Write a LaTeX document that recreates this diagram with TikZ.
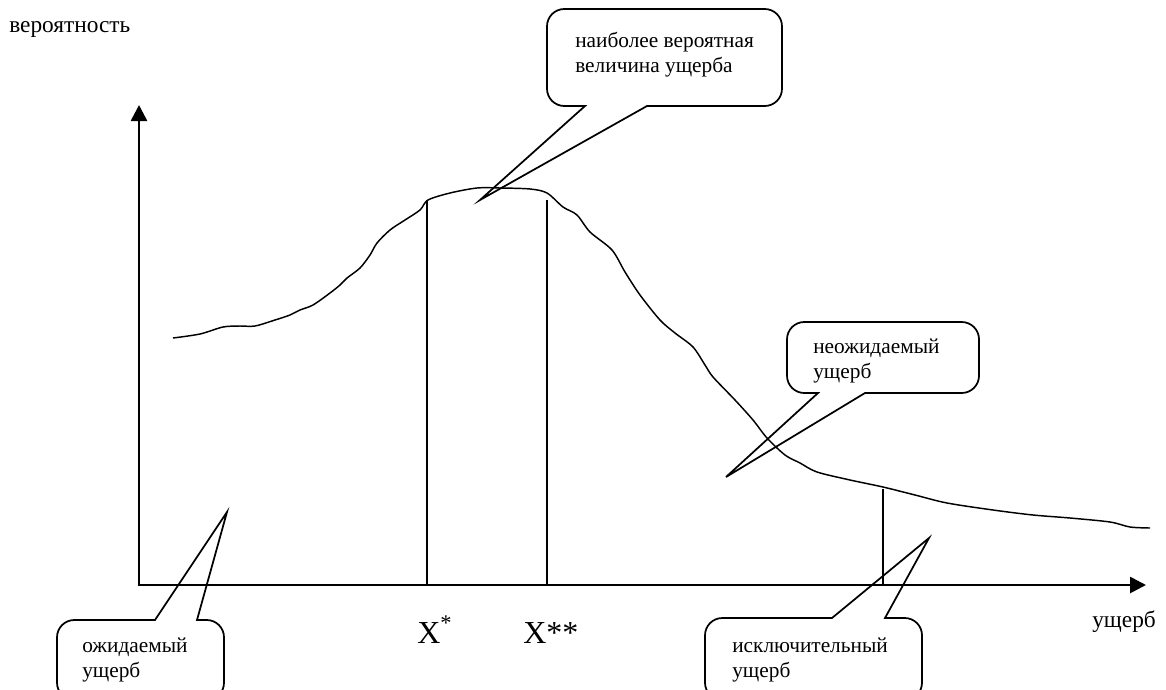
\documentclass[tikz,border=0pt]{standalone}
\usepackage{fontspec}
\setmainfont{Liberation Serif}
\usetikzlibrary{arrows.meta}

\begin{document}
\begin{tikzpicture}[x=0.75pt,y=-0.75pt,
        axis/.style={line width=2pt,-{Triangle[length=12pt,width=12pt]}},
        bubble/.style={line width=1.3pt},
        lbl/.style={anchor=base west,inner sep=0pt,align=left,font=\fontsize{16}{18.75}\selectfont}]
            \clip (0,0) rectangle (1166,689);
            \draw[axis] (139,586)--(139,105);
            \draw[axis] (138,585)--(1146,585);
            \node[lbl,font=\fontsize{17.5}{21}\selectfont] (prob) at (9,32) {вероятность};
            \node[lbl,font=\fontsize{17.5}{21}\selectfont] (loss) at (1092,627) {ущерб};
            \draw[line width=1.1pt] plot[smooth] coordinates {(173,338) (200,334) (223,327) (240,326) (255,326) (275,320)
                (290,315) (300,310) (313,305) (330,293) (340,285) (347,278) (360,268) (370,255) (377,243) (390,230)
                (405,220) (420,210) (428,200) (450,193) (477,188) (500,188) (530,189) (547,193) (563,207) (577,215)
                (590,232) (612,250) (625,272) (640,295) (660,320) (675,333) (693,347) (705,365) (713,377) (735,400)
                (753,420) (767,438) (785,455) (800,463) (817,472) (850,480) (883,487) (915,495) (947,503) (993,510)
                (1033,515) (1070,518) (1110,522) (1130,527) (1150,528)};
            \foreach \x/\y in {427/200,547/200,883/489}{
                \draw[line width=1.3pt] (\x,585)--(\x,\y);
            }
            \node[lbl,font=\fontsize{24}{28}\selectfont] (xone) at (417,643) {X\textsuperscript{*}};
            \node[lbl,font=\fontsize{24}{28}\selectfont] (xtwo) at (523,643) {X**};
            % callouts
            \draw[bubble] (782,60) [rounded corners=13pt]--(782,9)--(547,9)--(547,106)
                [sharp corners]--(585,106)--(480,200)--(647,106) [rounded corners=13pt]--(782,106)--cycle;
            \node[lbl] (mode) at (575,72) {наиболее вероятная\\величина ущерба};
            \draw[bubble] (979,360) [rounded corners=13pt]--(979,322)--(787,322)--(787,393)
                [sharp corners]--(818,393)--(726,477)--(865,393) [rounded corners=13pt]--(979,393)--cycle;
            \node[lbl] (unexp) at (813,378) {неожидаемый\\ущерб};
            \draw[bubble] (922,660) [rounded corners=13pt]--(922,700)--(705,700)--(705,618)
                [sharp corners]--(832,618)--(929,538)--(885,618) [rounded corners=13pt]--(922,618)--cycle;
            \node[lbl] (extr) at (732,677) {исключительный\\ущерб};
            \draw[bubble] (224,660) [rounded corners=13pt]--(224,700)--(57,700)--(57,620)
                [sharp corners]--(155,620)--(227,512)--(197,620) [rounded corners=13pt]--(224,620)--cycle;
            \node[lbl] (exp) at (82,677) {ожидаемый\\ущерб};
        \end{tikzpicture}
\end{document}
